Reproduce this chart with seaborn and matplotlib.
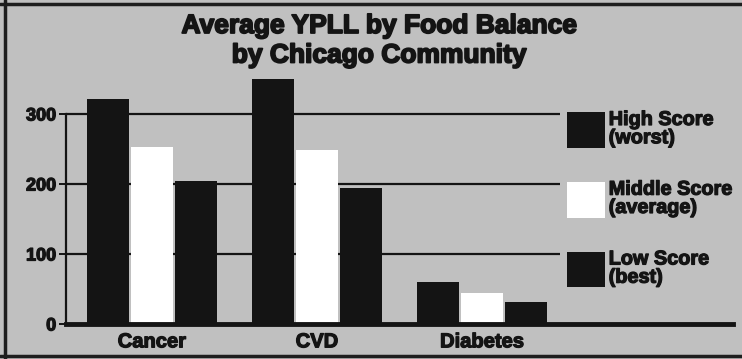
import matplotlib
matplotlib.use("Agg")
import matplotlib.pyplot as plt
import matplotlib.patheffects as pe
from matplotlib.lines import Line2D
import pandas as pd
import seaborn as sns

# Average years of potential life lost, by food-balance score group
diseases = ["Cancer", "CVD", "Diabetes"]
score_groups = ["High Score\n(worst)", "Middle Score\n(average)", "Low Score\n(best)"]
high_ypll = [321, 350, 60]
middle_ypll = [253, 248, 45]
low_ypll = [205, 195, 32]
y_ticks = [0, 100, 200, 300]
title_lines = ["Average YPLL by Food Balance", "by Chicago Community"]

bg = "#c0c0c0"
ink = "#141414"
bar_colors = [ink, "#ffffff", ink]

sns.set_style("white")
plt.rcParams["font.family"] = ["Liberation Sans", "DejaVu Sans"]
plt.rcParams["font.weight"] = "bold"

# heavier strokes for all lettering
heavy = [pe.withStroke(linewidth=0.9, foreground=ink)]
heavy_title = [pe.withStroke(linewidth=1.3, foreground=ink)]

rows = []
for group, vals in zip(score_groups, [high_ypll, middle_ypll, low_ypll]):
    for d, v in zip(diseases, vals):
        rows.append({"disease": d, "group": group, "ypll": v})
df = pd.DataFrame(rows)

W, H = 742, 359
fig = plt.figure(figsize=(W / 100, H / 100), dpi=100)
fig.patch.set_facecolor(bg)

ax_left, ax_right = 66, 733
ax_bottom_px, ax_top_px = 324, 61.5
ax = fig.add_axes([ax_left / W, 1 - ax_bottom_px / H,
                   (ax_right - ax_left) / W, (ax_bottom_px - ax_top_px) / H])
ax.set_facecolor(bg)

sns.barplot(data=df, x="disease", y="ypll", hue="group", order=diseases,
            hue_order=score_groups, palette=bar_colors, width=0.8, gap=0.06,
            saturation=1, edgecolor="none", ax=ax, zorder=3)

ax.set_xlim(-0.52, 3.52)
ax.set_ylim(0, 375)

# horizontal rules that stop short of the key
ax.hlines([100, 200, 300], -0.52, 2.47, colors=ink, linewidth=1.6, zorder=1)

for s in ["top", "right"]:
    ax.spines[s].set_visible(False)
ax.spines["left"].set_bounds(0, 300)
ax.spines["left"].set_linewidth(1.6)
ax.spines["left"].set_color(ink)
ax.spines["bottom"].set_linewidth(3.5)
ax.spines["bottom"].set_color(ink)
ax.spines["bottom"].set_zorder(5)

ax.set_yticks(y_ticks)
ax.set_yticklabels([str(t) for t in y_ticks], fontsize=13, fontweight="bold", color=ink)
ax.tick_params(axis="y", length=5, width=1.4, color=ink, pad=2, left=True)
ax.tick_params(axis="x", length=0, pad=6)
for lbl in ax.get_xticklabels():
    lbl.set_fontsize(14.5)
    lbl.set_fontweight("bold")
    lbl.set_color(ink)
    lbl.set_path_effects(heavy)
for lbl in ax.get_yticklabels():
    lbl.set_path_effects(heavy)
ax.set_xlabel("")
ax.set_ylabel("")

handles, labels = ax.get_legend_handles_labels()
if ax.legend_:
    ax.legend_.remove()
leg = fig.legend(handles, labels, loc="upper left",
                 bbox_to_anchor=(567 / W, 1 - 110 / H), bbox_transform=fig.transFigure,
                 frameon=False, borderpad=0, borderaxespad=0,
                 handlelength=1.9, handleheight=2.4, handletextpad=0.2,
                 labelspacing=1.6, prop={"size": 14.3, "weight": "bold"})
for t in leg.get_texts():
    t.set_color(ink)
    t.set_linespacing(0.95)
    t.set_path_effects(heavy)

for txt, base in zip(title_lines, [33, 62.5]):
    fig.text(379 / W, 1 - base / H, txt, ha="center", va="baseline",
             fontsize=19, fontweight="bold", color=ink, path_effects=heavy_title)

# frame along the top, left and bottom edges
frame_kw = dict(color="#1e1e1e", linewidth=2.5, transform=fig.transFigure)
fig.add_artist(Line2D([0, 1], [1 - 4 / H, 1 - 4 / H], **frame_kw))
fig.add_artist(Line2D([5 / W, 5 / W], [0, 1], **frame_kw))
fig.add_artist(Line2D([0, 1], [1 - 356 / H, 1 - 356 / H], **frame_kw))

fig.savefig("out.png", dpi=100, facecolor=bg)
